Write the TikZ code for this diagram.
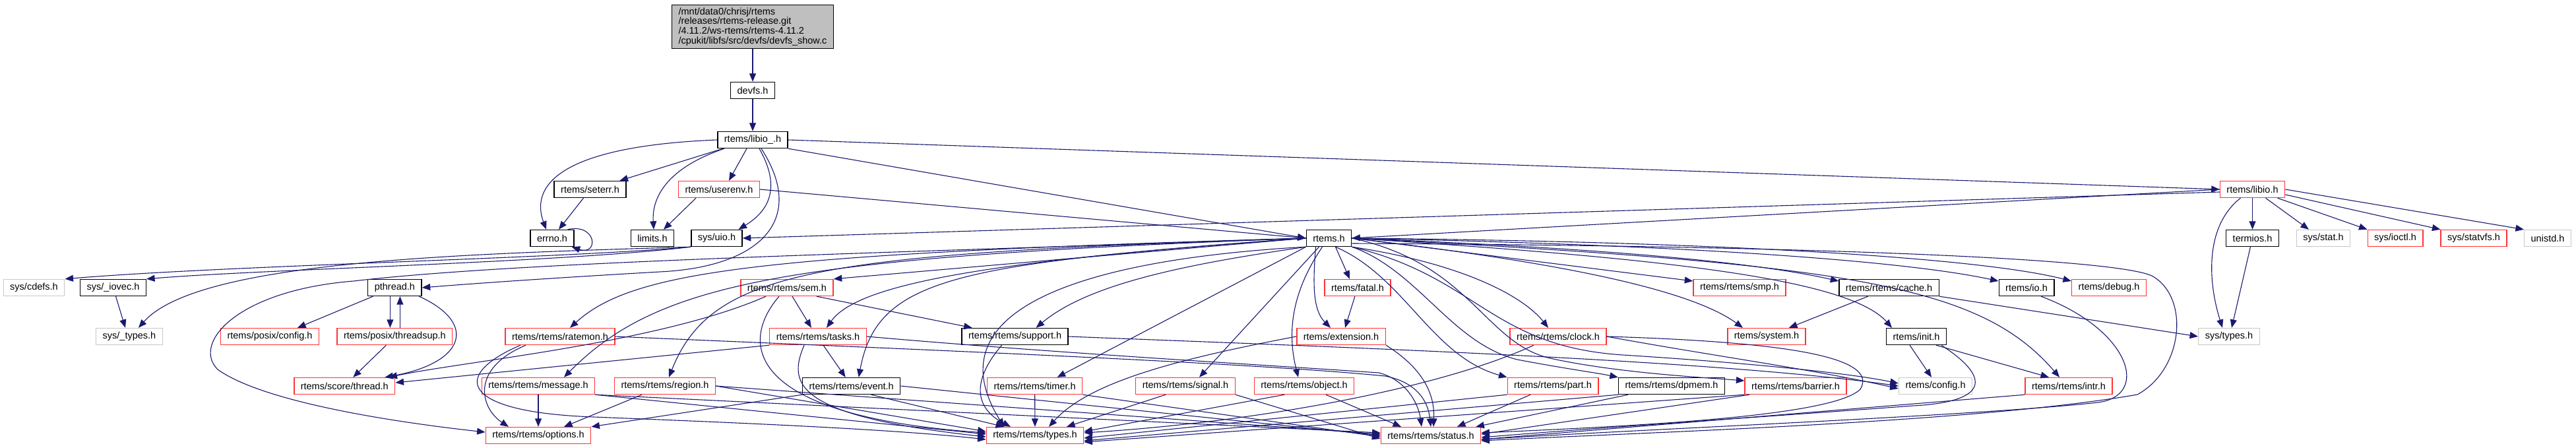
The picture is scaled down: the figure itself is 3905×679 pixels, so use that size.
\documentclass[tikz,border=0pt]{standalone}
\usepackage{fontspec}
\setmainfont{Liberation Sans}
\usetikzlibrary{arrows.meta}
\definecolor{edgeblue}{HTML}{191970}
\definecolor{truncred}{HTML}{FF3333}
\definecolor{extgray}{HTML}{C8C8C8}
\definecolor{mainfill}{HTML}{BFBFBF}
\tikzset{
  hdr/.style={draw=black, line width=1.4pt, fill=white, inner xsep=10pt, inner ysep=0pt,
    minimum height=25pt, font=\fontsize{14.5}{14.7}\selectfont},
  trunc/.style={hdr, draw=truncred},
  ext/.style={hdr, draw=extgray},
  srcfile/.style={hdr, fill=mainfill, align=left, inner ysep=4pt},
  dep/.style={draw=edgeblue, line width=1.1pt, -{Triangle[length=12.5pt,width=10pt]}}
}
\begin{document}
\begin{tikzpicture}[x=1pt,y=-1pt]
\useasboundingbox (0,0) rectangle (3905,679);

\node[srcfile] (main) at (1141,40.5) {/mnt/data0/chrisj/rtems\\/releases/rtems-release.git\\/4.11.2/ws-rtems/rtems-4.11.2\\/cpukit/libfs/src/devfs/devfs\_show.c};
\node[hdr] (devfs) at (1141,137) {devfs.h};
\node[hdr] (libioP) at (1141,212) {rtems/libio\_.h};

\node[hdr] (seterr) at (894.5,287) {rtems/seterr.h};
\node[trunc] (userenv) at (1090,287) {rtems/userenv.h};
\node[trunc] (libio) at (3414.5,287) {rtems/libio.h};

\node[hdr] (errno) at (837,361) {errno.h};
\node[hdr] (limits) at (989,361) {limits.h};
\node[hdr] (uio) at (1086.5,361) {sys/uio.h};
\node[hdr] (rtemsh) at (2014.5,361) {rtems.h};
\node[hdr] (termios) at (3414.5,361) {termios.h};
\node[ext] (sysstat) at (3522,361) {sys/stat.h};
\node[trunc] (ioctl) at (3631,361) {sys/ioctl.h};
\node[trunc] (statvfs) at (3750,361) {sys/statvfs.h};
\node[ext] (unistd) at (3862,361) {unistd.h};

\node[ext] (cdefs) at (51.5,436) {sys/cdefs.h};
\node[hdr] (iovec) at (171.5,436) {sys/\_iovec.h};
\node[hdr] (pthread) at (598.4,436) {pthread.h};
\node[trunc] (sem) at (1193,436) {rtems/rtems/sem.h};
\node[trunc] (fatal) at (2058,436) {rtems/fatal.h};
\node[trunc] (smp) at (2637,436) {rtems/rtems/smp.h};
\node[hdr] (cache) at (2863.6,436) {rtems/rtems/cache.h};
\node[hdr] (io) at (3072,436) {rtems/io.h};
\node[trunc] (debug) at (3197,436) {rtems/debug.h};

\node[ext] (systypesU) at (196,510) {sys/\_types.h};
\node[trunc] (pconfig) at (409,510) {rtems/posix/config.h};
\node[trunc] (threadsup) at (598.4,510) {rtems/posix/threadsup.h};
\node[trunc] (ratemon) at (849,510) {rtems/rtems/ratemon.h};
\node[trunc] (tasks) at (1240,510) {rtems/rtems/tasks.h};
\node[hdr] (support) at (1538.6,510) {rtems/rtems/support.h};
\node[trunc] (extension) at (2033,510) {rtems/extension.h};
\node[trunc] (clock) at (2362,510) {rtems/rtems/clock.h};
\node[trunc] (system) at (2678,510) {rtems/system.h};
\node[hdr] (init) at (2905,510) {rtems/init.h};
\node[ext] (systypes) at (3379,510) {sys/types.h};

\node[trunc] (thread) at (522.3,585) {rtems/score/thread.h};
\node[trunc] (message) at (816,585) {rtems/rtems/message.h};
\node[trunc] (region) at (1008,585) {rtems/rtems/region.h};
\node[hdr] (event) at (1290.7,585) {rtems/rtems/event.h};
\node[trunc] (timer) at (1568.6,585) {rtems/rtems/timer.h};
\node[trunc] (signal) at (1797,585) {rtems/rtems/signal.h};
\node[trunc] (object) at (1977,585) {rtems/rtems/object.h};
\node[trunc] (part) at (2354,585) {rtems/rtems/part.h};
\node[hdr] (dpmem) at (2534,585) {rtems/rtems/dpmem.h};
\node[trunc] (barrier) at (2722,585) {rtems/rtems/barrier.h};
\node[ext] (config) at (2934,585) {rtems/config.h};
\node[trunc] (intr) at (3136,585) {rtems/rtems/intr.h};

\node[trunc] (options) at (816,660) {rtems/rtems/options.h};
\node[trunc] (types) at (1569,660) {rtems/rtems/types.h};
\node[trunc] (status) at (2169,660) {rtems/rtems/status.h};

\draw[dep] (main) -- (devfs);
\draw[dep] (devfs) -- (libioP);

\draw[dep] (libioP.west) .. controls (840,222) and (805,285) .. ([xshift=-9pt]errno.north);
\draw[dep] ([xshift=-45pt]libioP.south) -- ([xshift=45pt]seterr.north);
\draw[dep] ([xshift=-43pt]libioP.south) .. controls (1010,255) and (988,300) .. ([xshift=2pt]limits.north);
\draw[dep] ([xshift=-9pt]libioP.south) -- ([xshift=15pt]userenv.north);
\draw[dep] ([xshift=10pt]libioP.south) .. controls (1185,285) and (1165,320) .. ([xshift=33pt]uio.north);
\draw[dep] ([xshift=13pt]libioP.south) .. controls (1225,335) and (1150,405) .. (1000,412) .. controls (860,420) and (740,428) .. (pthread.east);
\draw[dep] (libioP.south east) -- (rtemsh.west);
\draw[dep] (libioP.east) -- (libio.west);

\draw[dep] ([xshift=-10pt]seterr.south) -- ([xshift=10pt]errno.north);
\draw[dep] ([xshift=-35pt]userenv.south) -- ([xshift=17pt]limits.north);
\draw[dep] (userenv.east) -- (rtemsh.west);
\draw[dep] ([xshift=-10pt]errno.north east) .. controls (905,338) and (908,388) .. ([xshift=-4pt]errno.south east);

\draw[dep] (libio.west) -- (rtemsh.east);
\draw[dep] ([yshift=-4pt]libio.west) -- (uio.east);
\draw[dep] ([xshift=-18pt]libio.south) .. controls (3345,340) and (3345,420) .. ([xshift=-10pt]systypes.north);
\draw[dep] (libio) -- (termios);
\draw[dep] ([xshift=20pt]libio.south) -- ([xshift=-22pt]sysstat.north);
\draw[dep] ([xshift=38pt]libio.south) -- (ioctl.north west);
\draw[dep] ([yshift=-8pt]libio.east) -- (statvfs.north west);
\draw[dep] (libio.east) -- (unistd.north west);
\draw[dep] (termios) -- ([xshift=4pt]systypes.north);

\draw[dep] (uio.south west) .. controls (850,392) and (350,402) .. (cdefs.north east);
\draw[dep] (uio.south west) .. controls (850,398) and (400,408) .. (iovec.north east);
\draw[dep] (uio.south west) .. controls (700,385) and (300,395) .. ([xshift=14pt]systypesU.north);
\draw[dep] (iovec) -- ([xshift=-6pt]systypesU.north);

\draw[dep] ([xshift=-33pt]pthread.south) -- ([xshift=42pt]pconfig.north);
\draw[dep] ([xshift=-7pt]pthread.south) -- ([xshift=-7pt]threadsup.north);
\draw[dep] ([xshift=8pt]threadsup.north) -- ([xshift=8pt]pthread.south);
\draw[dep] ([xshift=37pt]pthread.south) .. controls (725,490) and (705,550) .. ([xshift=-16pt]thread.north east);
\draw[dep] ([xshift=-13pt]threadsup.south) -- ([xshift=13pt]thread.north);

\draw[dep] (rtemsh.west) -- (sem.north east);
\draw[dep] (rtemsh.west) .. controls (1500,395) and (1300,430) .. ([xshift=13pt]tasks.north);
\draw[dep] (rtemsh.west) .. controls (1150,385) and (960,410) .. ([xshift=15pt]ratemon.north);
\draw[dep] (rtemsh.west) .. controls (1200,390) and (1000,425) .. ([xshift=39pt]message.north);
\draw[dep] (rtemsh.west) .. controls (1250,385) and (1080,405) .. ([xshift=6pt]region.north);
\draw[dep] (rtemsh.west) .. controls (1450,400) and (1330,420) .. ([xshift=11pt]event.north);
\draw[dep] (rtemsh.south west) .. controls (1800,400) and (1650,430) .. ([xshift=32pt]support.north);
\draw[dep] (rtemsh.south west) .. controls (1700,390) and (1400,450) .. ([xshift=-47pt]types.north);
\draw[dep] (rtemsh.south west) -- ([xshift=34pt]timer.north);
\draw[dep] ([xshift=-15pt]rtemsh.south) -- ([xshift=21pt]signal.north);
\draw[dep] ([xshift=-10pt]rtemsh.south) .. controls (1960,440) and (1950,500) .. ([xshift=-9pt]object.north);
\draw[dep] ([xshift=-20pt]rtemsh.south) .. controls (1990,430) and (1990,470) .. ([xshift=-16pt]extension.north);
\draw[dep] ([xshift=10pt]rtemsh.south) -- ([xshift=-12pt]fatal.north);
\draw[dep] (rtemsh.south east) .. controls (2220,400) and (2310,450) .. ([xshift=-15pt]clock.north);
\draw[dep] ([xshift=10pt]rtemsh.south) .. controls (2130,420) and (2170,540) .. (part.north west);
\draw[dep] (rtemsh.south east) .. controls (2150,410) and (2200,520) .. (2300,545) .. controls (2380,560) and (2420,565) .. (dpmem.north west);
\draw[dep] (rtemsh.east) .. controls (2230,400) and (2250,520) .. (2350,543) .. controls (2450,565) and (2580,572) .. ([yshift=8pt]barrier.west);
\draw[dep] (rtemsh.east) -- ([yshift=10pt]smp.west);
\draw[dep] (rtemsh.east) .. controls (2300,390) and (2550,430) .. ([xshift=-36pt]system.north);
\draw[dep] (rtemsh.east) .. controls (2400,375) and (2650,395) .. ([yshift=10pt]cache.west);
\draw[dep] (rtemsh.east) .. controls (2500,390) and (2800,420) .. ([xshift=-37pt]init.north);
\draw[dep] (rtemsh.east) .. controls (2600,372) and (2900,398) .. ([yshift=10pt]io.west);
\draw[dep] (rtemsh.east) .. controls (2600,366) and (3000,390) .. ([yshift=10pt]debug.west);
\draw[dep] (rtemsh.east) .. controls (2800,400) and (3000,430) .. ([xshift=-14pt]intr.north);
\draw[dep] (rtemsh.south east) .. controls (2240,420) and (2260,525) .. (2460,538) .. controls (2650,550) and (2800,565) .. ([yshift=4pt]config.west);
\draw[dep] ([yshift=-8pt]rtemsh.east) .. controls (2700,372) and (3200,390) .. (3262,418) .. controls (3320,450) and (3310,560) .. (3240,598) .. controls (3000,640) and (2500,655) .. ([yshift=-8pt]status.east);
\draw[dep] (rtemsh.west) .. controls (1400,382) and (800,395) .. (536,426) .. controls (360,440) and (290,520) .. (330,560) .. controls (400,610) and (600,640) .. ([yshift=5pt]options.west);

\draw[dep] ([xshift=-32pt]sem.south) .. controls (1000,520) and (700,548) .. ([xshift=-10pt]thread.north east);
\draw[dep] ([xshift=8pt]sem.south) -- ([xshift=-10pt]tasks.north);
\draw[dep] ([xshift=45pt]sem.south) -- ([xshift=-65pt]support.north);
\draw[dep] ([xshift=-12pt]sem.south) .. controls (1120,520) and (1130,630) .. ([yshift=4pt]types.west);

\draw[dep] (tasks.south west) -- ([yshift=5pt]thread.east);
\draw[dep] ([xshift=8pt]tasks.south) -- ([xshift=-9pt]event.north);
\draw[dep] ([xshift=-21pt]tasks.south) .. controls (1195,580) and (1200,630) .. ([yshift=-2pt]types.west);
\draw[dep] (tasks.east) .. controls (1600,535) and (1900,552) .. (2090,565) .. controls (2130,575) and (2150,610) .. ([xshift=-14pt]status.north);

\draw[dep] ([xshift=-52pt]ratemon.south) .. controls (710,560) and (730,620) .. ([xshift=-45pt]options.north);
\draw[dep] ([xshift=-60pt]ratemon.south) .. controls (680,570) and (700,625) .. (900,632) .. controls (1100,640) and (1350,650) .. ([yshift=-6pt]types.west);
\draw[dep] (ratemon.east) .. controls (1400,530) and (1900,550) .. (2100,570) .. controls (2150,580) and (2165,610) .. (status.north);

\draw[dep] (message) -- (options);
\draw[dep] (message.south east) -- ([yshift=2pt]types.west);
\draw[dep] (message.south east) -- ([yshift=4pt]status.west);
\draw[dep] ([xshift=-35pt]region.south) -- ([xshift=39pt]options.north);
\draw[dep] (region.east) -- ([yshift=6pt]types.west);
\draw[dep] (region.east) -- ([yshift=2pt]status.west);
\draw[dep] (event.south west) -- (options.north east);
\draw[dep] ([xshift=30pt]event.south) -- ([xshift=-47pt]types.north);
\draw[dep] (event.east) -- (status.west);

\draw[dep] ([xshift=-20pt]support.south) .. controls (1470,580) and (1480,620) .. ([xshift=-37pt]types.north);
\draw[dep] (support.east) .. controls (2000,525) and (2600,545) .. (config.west);
\draw[dep] (timer) -- (types);
\draw[dep] (timer.south east) -- ([yshift=-2pt]status.west);
\draw[dep] ([xshift=-30pt]signal.south) -- ([xshift=48pt]types.north);
\draw[dep] (signal.south east) -- ([yshift=-5pt]status.west);
\draw[dep] ([xshift=-30pt]object.south) -- ([yshift=6pt]types.east);
\draw[dep] ([xshift=33pt]object.south) -- ([xshift=-45pt]status.north);
\draw[dep] (extension.west) .. controls (1780,545) and (1650,580) .. ([xshift=21pt]types.north);
\draw[dep] (extension.south east) .. controls (2160,560) and (2175,600) .. ([xshift=4pt]status.north);
\draw[dep] (fatal) -- ([xshift=6pt]extension.north);

\draw[dep] ([xshift=-37pt]clock.south) .. controls (2180,590) and (1900,640) .. ([yshift=4pt]types.east);
\draw[dep] (clock.east) .. controls (2600,540) and (2750,560) .. ([yshift=-4pt]config.west);
\draw[dep] (clock.east) .. controls (2700,518) and (2850,540) .. (2820,590) .. controls (2780,630) and (2500,645) .. ([yshift=4pt]status.east);
\draw[dep] (part.south west) -- ([yshift=-4pt]types.east);
\draw[dep] ([xshift=-34pt]part.south) -- ([xshift=40pt]status.north);
\draw[dep] (dpmem.south west) -- ([yshift=-8pt]types.east);
\draw[dep] ([xshift=-66pt]dpmem.south) -- ([xshift=-8pt]status.north east);
\draw[dep] (barrier.south west) -- ([yshift=-10pt]types.east);
\draw[dep] ([xshift=-70pt]barrier.south) -- ([yshift=2pt]status.east);

\draw[dep] ([xshift=-32pt]cache.south) -- ([xshift=34pt]system.north);
\draw[dep] (cache.south east) -- (systypes.west);
\draw[dep] ([xshift=-10pt]init.south) -- ([xshift=-6pt]config.north);
\draw[dep] ([xshift=30pt]init.south) -- ([xshift=-30pt]intr.north);
\draw[dep] ([xshift=38pt]init.south) .. controls (3030,580) and (3000,610) .. (2900,615) .. controls (2700,630) and (2400,650) .. ([yshift=-3pt]status.east);
\draw[dep] (intr.south west) -- ([yshift=-6pt]status.east);
\draw[dep] ([xshift=22pt]io.south) .. controls (3230,500) and (3260,600) .. (3180,610) .. controls (3000,630) and (2500,650) .. ([yshift=-6pt]status.east);
\end{tikzpicture}
\end{document}
